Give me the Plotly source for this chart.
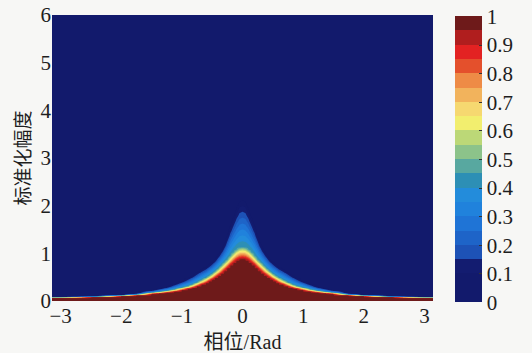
import numpy as np
import plotly.graph_objects as go

phase_abs = [0.0, 0.05, 0.1, 0.15, 0.2, 0.25, 0.3, 0.35, 0.4, 0.45, 0.5, 0.55, 0.6, 0.675,
             0.75, 0.825, 0.9, 1.0, 1.125, 1.25, 1.375, 1.5, 1.75, 2.0, 2.5, 3.1416]

# Normalized amplitude where the normalized density falls to 0.95 (top of dark red)
amp_095 = [0.88, 0.87, 0.84, 0.79, 0.74, 0.68, 0.62, 0.565, 0.52, 0.48, 0.44, 0.405, 0.37,
           0.335, 0.30, 0.27, 0.25, 0.22, 0.19, 0.17, 0.155, 0.14, 0.11, 0.095, 0.075, 0.06]
# ... to 0.60 (yellow)
amp_060 = [1.06, 1.05, 1.01, 0.95, 0.88, 0.81, 0.75, 0.69, 0.63, 0.58, 0.53, 0.49, 0.45,
           0.405, 0.36, 0.32, 0.29, 0.26, 0.225, 0.20, 0.18, 0.165, 0.125, 0.105, 0.082, 0.066]
# ... to 0.45 (green / light blue)
amp_045 = [1.13, 1.12, 1.08, 1.02, 0.95, 0.87, 0.81, 0.745, 0.68, 0.625, 0.57, 0.53, 0.49,
           0.44, 0.39, 0.345, 0.31, 0.28, 0.24, 0.21, 0.19, 0.175, 0.13, 0.11, 0.085, 0.068]
# ... to 0.15 (outer blue edge)
amp_015 = [1.87, 1.84, 1.72, 1.57, 1.42, 1.25, 1.10, 0.99, 0.90, 0.82, 0.76, 0.71, 0.66,
           0.61, 0.55, 0.49, 0.44, 0.385, 0.325, 0.275, 0.24, 0.21, 0.15, 0.125, 0.095, 0.074]
edge_levels = [1.0, 0.95, 0.60, 0.45, 0.15, 0.0, 0.0]

# Amplitude rows of the grid
amp = list(np.round(np.arange(0.0, 2.5, 0.005), 3)) + [6.0]

# Band colours of the colour bar, 0 -> 1 in steps of 0.05
band_colors = ["#121a6c", "#121a6c", "#131c70", "#1d52b6", "#1e64c8", "#1f74d6",
               "#2082dc", "#238cdb", "#2d8fb5", "#58a8a0", "#8cc38a", "#bcd877",
               "#f2ee6e", "#f6d870", "#f2b35c", "#ee8b46", "#e4502c", "#e32222",
               "#b01e1e", "#6e1a1a"]
cbar_ticks = [0, 0.1, 0.2, 0.3, 0.4, 0.5, 0.6, 0.7, 0.8, 0.9, 1]
cbar_text = ["0", "0.1", "0.2", "0.3", "0.4", "0.5", "0.6", "0.7", "0.8", "0.9", "1"]
x_ticks = [-3, -2, -1, 0, 1, 2, 3]
y_ticks = [0, 1, 2, 3, 4, 5, 6]

# mirror the readings to both signs of the phase
def mirror(vals):
    return list(reversed(vals[1:])) + list(vals)

phase = [-p for p in reversed(phase_abs[1:])] + phase_abs
h95, h60, h45, h15 = mirror(amp_095), mirror(amp_060), mirror(amp_045), mirror(amp_015)

amp_arr = np.array(amp)
z = np.zeros((len(amp), len(phase)))
for j in range(len(phase)):
    top = h15[j] + 0.5 * (h15[j] - h45[j])   # same slope continued down to 0
    yp = [0.0, h95[j], h60[j], h45[j], h15[j], top, 6.0]
    z[:, j] = np.interp(amp_arr, yp, edge_levels)

n = len(band_colors)
cs = []
for k, c in enumerate(band_colors):
    lo = 0.0 if k == 0 else (k - 0.5) / (n - 1)
    hi = 1.0 if k == n - 1 else (k + 0.5) / (n - 1)
    cs.append([lo, c])
    cs.append([hi, c])

serif = "Liberation Serif, Times New Roman, Noto Sans CJK SC, serif"
txt = "#1e1e1e"

fig = go.Figure(go.Contour(
    x=phase, y=amp, z=z,
    zmin=0, zmax=1,
    autocontour=False,
    contours=dict(start=0.05, end=0.95, size=0.05, coloring="fill", showlines=False),
    line=dict(width=0, smoothing=1.0),
    colorscale=cs,
    colorbar=dict(
        x=1.058, xanchor="left", xpad=0,
        y=0.495, yanchor="middle", ypad=0,
        len=1.0, lenmode="fraction",
        thickness=27, thicknessmode="pixels",
        outlinewidth=0,
        tickmode="array", tickvals=cbar_ticks, ticktext=cbar_text,
        ticks="inside", ticklen=3, tickcolor="#333",
        tickfont=dict(family=serif, size=21, color=txt),
    ),
    hoverinfo="skip",
))

fig.update_layout(
    width=532, height=353,
    margin=dict(l=52, r=99, t=15, b=52, autoexpand=False),
    paper_bgcolor="#f7f7f5",
    plot_bgcolor="#121a6c",
    font=dict(family=serif, size=21, color=txt),
    xaxis=dict(
        range=[-3.1416, 3.1416], tickmode="array", tickvals=x_ticks,
        showgrid=False, zeroline=False, ticks="", showline=False, automargin=False,
        tickfont=dict(family=serif, size=21, color=txt),
        title=dict(text="相位/Rad", font=dict(family=serif, size=20, color=txt), standoff=8),
    ),
    yaxis=dict(
        range=[0, 6], tickmode="array", tickvals=y_ticks,
        showgrid=False, zeroline=False, ticks="", showline=False, automargin=False,
        tickfont=dict(family=serif, size=21, color=txt),
        title=dict(text="标准化幅度", font=dict(family=serif, size=19, color=txt), standoff=4),
    ),
)

fig.write_html("out.html")
